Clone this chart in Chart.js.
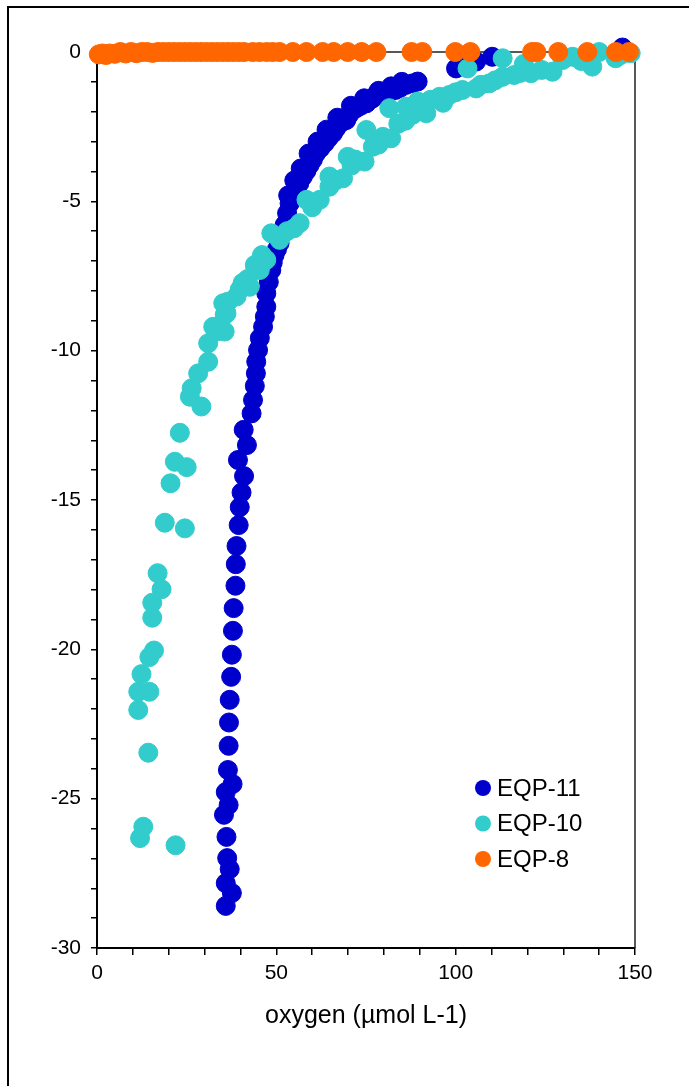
<!DOCTYPE html>
<html>
<head>
<meta charset="utf-8">
<script src="https://cdn.jsdelivr.net/npm/chart.js@4.4.1/dist/chart.umd.min.js"></script>
<style>
  html, body { margin: 0; padding: 0; background: #fff; }
  #wrap { width: 689px; height: 1086px; }
</style>
</head>
<body>
<div id="wrap"><canvas id="profile_chart" width="689" height="1086"></canvas></div>
<script>
// oxygen (x) vs depth (y) for the three stations
var eqp11_x = [146.5, 110.2, 105.7, 100.1, 101.5,
  89.4, 88, 86.2, 84.5, 83.2, 81.8, 80.6, 79, 77.8, 76.9, 76, 75.1, 73.5, 72.3, 71.3, 70.3, 69.5, 68.5, 67.6, 66.7,
  65.8, 64.6, 63.5, 62.3, 61.1, 60.2, 59.3, 58.4, 57.4, 56.4, 55.4, 54.5, 53.7, 53, 52.3, 51.6, 50.9, 50.2, 49.5,
  49, 48.6, 47.9, 47.2, 85, 82, 78.5, 74.5, 70.8, 67, 64, 61.5, 59, 56.8, 55, 53.3,
  47.2, 46.8, 46.3, 45.4, 44.9, 44.4, 44.3, 44, 43.5, 43.1, 40.9, 41.8, 39.3, 41, 40.3, 39.8, 39.5, 38.9, 38.7,
  38.6, 38.1, 37.9, 37.6, 37.4, 37, 36.8, 36.7, 36.5, 37.8, 35.9, 36.7, 35.4, 36.1, 36.3, 37, 35.9, 37.6, 35.9];
var eqp11_y = [0.15, -0.16, -0.32, -0.55, -0.45,
  -0.99, -1.05, -1.1, -1.2, -1.27, -1.32, -1.38, -1.42, -1.44, -1.55, -1.61, -1.72, -1.8, -1.88, -1.94, -2.1, -2.28, -2.33, -2.39, -2.55,
  -2.72, -2.88, -3.05, -3.22, -3.39, -3.6, -3.78, -3.98, -4.17, -4.4, -4.62, -4.85, -5.07, -5.4, -5.79, -6.1, -6.4, -6.6, -6.8,
  -7.05, -7.3, -7.7, -8.08, -1.0, -1.15, -1.3, -1.55, -1.8, -2.2, -2.6, -3.0, -3.4, -3.9, -4.3, -4.8,
  -8.53, -8.86, -9.2, -9.58, -9.98, -10.37, -10.76, -11.18, -11.65, -12.1, -12.65, -13.16, -13.66, -14.2, -14.75, -15.24, -15.84, -16.54, -17.15,
  -17.87, -18.62, -19.38, -20.18, -20.92, -21.69, -22.45, -23.23, -24.04, -24.51, -24.78, -25.21, -25.54, -26.28, -26.99, -27.36, -27.83, -28.16, -28.59];

var eqp10_x = [148.8, 146, 144.6, 140, 138.1, 135, 132.6, 129.8, 127, 124, 121, 119, 118, 116.3, 113.1, 113.1, 111, 109.4, 107, 105.7,
  103.3, 101.9, 100, 98.2, 95.5, 93, 91.8, 89.4, 88, 86.2, 84, 82, 81.5, 79.7, 77.5, 76.9, 75.1, 74.6, 72, 69.9,
  68.6, 66.5, 64.8, 64.8, 62.1, 60, 58.4, 56.5, 55, 53, 50.9, 48.6, 47.2, 45.4, 44, 42.6, 40.6, 38.9, 36.1, 35.2,
  46, 44.2, 42, 39.8, 71, 78.5, 86, 96.5,
  36.5, 35.6, 33.3, 35.6, 32.4, 31, 31, 28.2, 26.4, 25.9, 29.1, 23.1, 21.7, 25, 20.5, 18.9, 24.5, 16.9, 18,
  15.4, 15.4, 15.9, 14.6, 12.4, 11.5, 14.6, 11.5, 14.3, 12.9, 12, 21.9];
var eqp10_y = [-0.04, -0.1, -0.21, 0, -0.49, -0.3, -0.16, -0.27, -0.66, -0.6, -0.71, -0.4, -0.7, -0.77, -0.83, -0.21, -0.95, -1.05, -1.1, -1.22,
  -0.55, -1.27, -1.35, -1.44, -1.5, -1.6, -2.05, -1.66, -2.1, -1.83, -2.4, -2.89, -1.88, -2.84, -3.0, -3.17, -2.61, -3.67, -3.6, -3.51,
  -4.23, -4.3, -4.51, -4.17, -4.95, -5.2, -4.95, -5.73, -5.9, -6.0, -6.29, -6.07, -6.96, -7.3, -7.13, -7.86, -7.73, -8.19, -8.75, -8.41,
  -6.8, -7.25, -7.6, -7.95, -3.8, -3.1, -2.3, -1.7,
  -8.36, -8.8, -9.36, -9.36, -9.2, -9.75, -10.37, -10.76, -11.26, -11.54, -11.87, -12.75, -13.72, -13.9, -14.44, -15.76, -15.95, -17.45, -17.99,
  -18.44, -18.94, -20.04, -20.26, -20.83, -21.42, -21.42, -22.03, -23.46, -25.94, -26.32, -26.56];

var eqp8_x = [0.5, 1.5, 2.5, 3.5, 5, 6.5, 8, 9.5, 11, 12.5, 14, 15.5, 17, 18.5, 20, 21.5, 23, 24.5, 26, 27.5,
  29, 30.5, 32, 33.5, 35, 36.5, 38, 39.5, 41, 43.4, 45.3, 47.3, 49, 50.9, 54.6, 58.4, 62.9,
  66, 69.9, 73.8, 77.9, 87.7, 90.7, 99.9, 104.1, 121.3, 122.5, 128.6, 136.7, 144.7, 148.3];
var eqp8_y = [-0.08, -0.05, -0.1, -0.05, -0.06, 0, -0.05, 0, -0.04, 0, 0, -0.03, 0, 0, 0, 0, 0, 0, 0, 0,
  0, 0, 0, 0, 0, 0, 0, 0, 0, 0, 0, 0, 0, 0, 0, 0, 0,
  0, 0, 0, 0, 0, 0, 0, 0, 0, 0, 0, 0, 0, 0];

var series_names = ["EQP-11", "EQP-10", "EQP-8"];
var series_colors = ["#0000CC", "#33CCCC", "#FF6600"];
var x_label = "oxygen (\u00b5mol L-1)";

var font_family = "'Liberation Sans', Arial, sans-serif";

function to_points(xs, ys) {
  var pts = [];
  for (var i = 0; i < xs.length; i++) {
    pts.push({ x: xs[i], y: ys[i] });
  }
  return pts;
}

// frame, plot box and the little legend in the lower right
const decor = {
  id: 'decor',
  beforeDraw(chart) {
    const c = chart.ctx;
    c.save();
    c.fillStyle = '#fff';
    c.fillRect(0, 0, chart.width, chart.height);
    c.strokeStyle = '#000';
    c.lineWidth = 2;
    c.beginPath();
    c.moveTo(8, chart.height);
    c.lineTo(8, 7);
    c.lineTo(chart.width, 7);
    c.stroke();
    c.restore();
  },
  beforeDatasetsDraw(chart) {
    const a = chart.chartArea, c = chart.ctx;
    c.save();
    c.strokeStyle = '#222';
    c.lineWidth = 1.5;
    c.beginPath();
    c.moveTo(a.left, a.top);
    c.lineTo(a.right, a.top);
    c.lineTo(a.right, a.bottom);
    c.stroke();
    c.restore();
  },
  afterDraw(chart) {
    const c = chart.ctx;
    c.save();
    c.font = '24px ' + font_family;
    c.textBaseline = 'middle';
    c.textAlign = 'left';
    chart.data.datasets.forEach((ds, i) => {
      const y = 788 + i * 35.5;
      c.fillStyle = ds.backgroundColor;
      c.beginPath();
      c.arc(483, y, 8, 0, Math.PI * 2);
      c.fill();
      c.fillStyle = '#000';
      c.fillText(ds.label, 497, y + 1);
    });
    c.restore();
  }
};

const ctx = document.getElementById("profile_chart").getContext("2d");
var my_chart = new Chart(ctx, {
  type: 'scatter',
  data: {
    datasets: [{
      label: series_names[0],
      data: to_points(eqp11_x, eqp11_y),
      backgroundColor: series_colors[0],
      borderColor: series_colors[0],
      order: 3
    }, {
      label: series_names[1],
      data: to_points(eqp10_x, eqp10_y),
      backgroundColor: series_colors[1],
      borderColor: series_colors[1],
      order: 2
    }, {
      label: series_names[2],
      data: to_points(eqp8_x, eqp8_y),
      backgroundColor: series_colors[2],
      borderColor: series_colors[2],
      order: 1
    }]
  },
  options: {
    responsive: false,
    animation: false,
    devicePixelRatio: 1,
    layout: { padding: { left: 0, right: 54, top: 52, bottom: 0 } },
    elements: { point: { radius: 9.5, borderWidth: 1, hoverRadius: 9.5 } },
    datasets: { scatter: { clip: false } },
    plugins: {
      legend: { display: false },
      tooltip: { enabled: false }
    },
    scales: {
      x: {
        type: 'linear',
        position: 'bottom',
        min: 0,
        max: 150,
        afterFit: function (s) { s.height = 138; },
        border: { display: true, color: '#000', width: 2 },
        grid: { drawOnChartArea: false, drawTicks: true, tickLength: 7, color: '#000', lineWidth: 1.5 },
        ticks: {
          stepSize: 10,
          autoSkip: false,
          maxRotation: 0,
          padding: 6,
          color: '#000',
          font: { family: font_family, size: 21 },
          callback: function (v) { return v % 50 === 0 ? String(v) : ''; }
        },
        title: {
          display: true,
          text: x_label,
          color: '#000',
          font: { family: font_family, size: 25 },
          padding: { top: 0, bottom: 55 }
        }
      },
      y: {
        type: 'linear',
        min: -30,
        max: 0,
        afterFit: function (s) { s.width = 97; },
        border: { display: true, color: '#000', width: 2 },
        grid: { drawOnChartArea: false, drawTicks: true, tickLength: 6, color: '#000', lineWidth: 1.5 },
        ticks: {
          stepSize: 1,
          autoSkip: false,
          padding: 10,
          color: '#000',
          font: { family: font_family, size: 21 },
          callback: function (v) { return v % 5 === 0 ? String(v) : ''; }
        }
      }
    }
  },
  plugins: [decor]
});
</script>
</body>
</html>
